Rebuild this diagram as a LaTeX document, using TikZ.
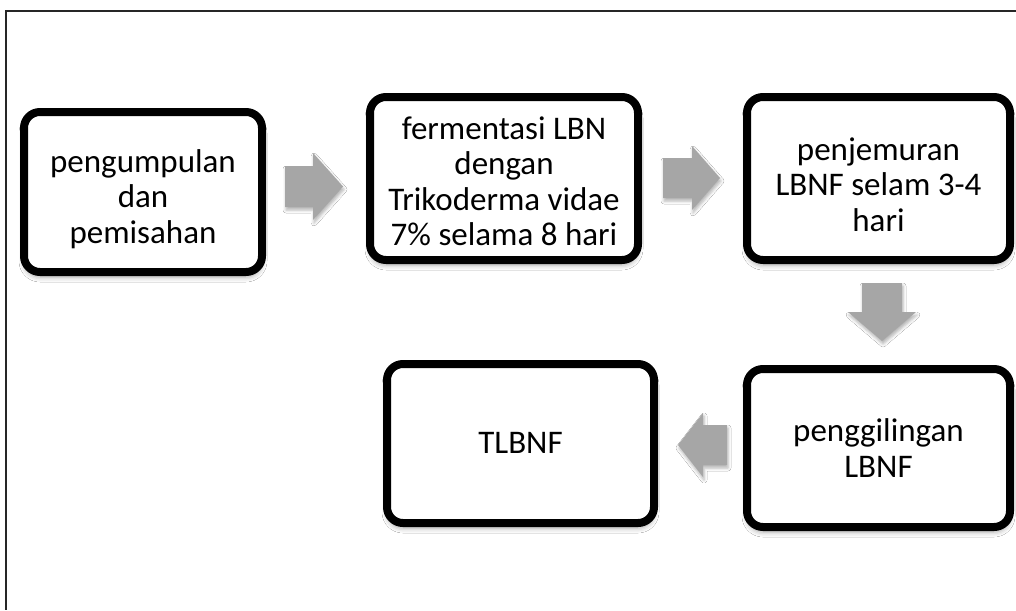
\documentclass[tikz,border=0pt]{standalone}
\usepackage{fontspec}
\setmainfont{Carlito}
\usetikzlibrary{shadows.blur}
\begin{document}
\begin{tikzpicture}[x=1pt,y=-1pt,
  stepbox/.style={draw=black, line width=8pt, rounded corners=16pt, fill=white,
    inner sep=0pt,
    blur shadow={shadow xshift=0pt, shadow yshift=-5pt, shadow blur radius=5pt, shadow opacity=35}},
  steptext/.style={align=center, inner sep=0pt, font=\fontsize{33}{35.5}\selectfont},
  blockarrow/.style={fill=black!35, draw=none,
    blur shadow={shadow xshift=1pt, shadow yshift=-3pt, shadow blur radius=3pt, shadow opacity=30}}]
\useasboundingbox (0,0) rectangle (1016,610);
\fill[white] (0,0) rectangle (1016,610);
\draw[line width=1.5pt, black!85] (1016,11) -- (6,11) -- (6,610);

\node[stepbox, minimum width=238pt, minimum height=160pt] (n1) at (143,192) {};
\node[stepbox, minimum width=268pt, minimum height=163pt] (n2) at (504,178.5) {};
\node[stepbox, minimum width=263pt, minimum height=163pt] (n3) at (878.5,178.5) {};
\node[stepbox, minimum width=263pt, minimum height=158pt] (n4) at (878.5,448) {};
\node[stepbox, minimum width=267pt, minimum height=159pt] (n5) at (520.5,443.5) {};

\node[steptext] (t1) at ([yshift=-7pt]n1.center) {pengumpulan\\dan\\pemisahan};
\node[steptext] (t2) at ([yshift=-3pt]n2.center) {fermentasi LBN\\dengan\\Trikoderma vidae\\7\% selama 8 hari};
\node[steptext] (t3) at ([yshift=-6pt]n3.center) {penjemuran\\LBNF selam 3-4\\hari};
\node[steptext] (t4) at (n4.center) {penggilingan\\LBNF};
\node[steptext] (t5) at ([yshift=1pt]n5.center) {TLBNF};

\fill[blockarrow] (285,166) -- (313,166) -- (313,153) -- (343,186.5) -- (313,220) -- (313,207) -- (285,207) -- cycle;
\fill[blockarrow] (663,158) -- (692,158) -- (692,146) -- (720,178) -- (692,210) -- (692,198) -- (663,198) -- cycle;
\fill[blockarrow] (862,283) -- (902,283) -- (902,312) -- (916,312) -- (882,341) -- (848,312) -- (862,312) -- cycle;
\fill[blockarrow] (727,425) -- (703,425) -- (703,413) -- (678,445) -- (703,477) -- (703,465) -- (727,465) -- cycle;
\end{tikzpicture}
\end{document}
